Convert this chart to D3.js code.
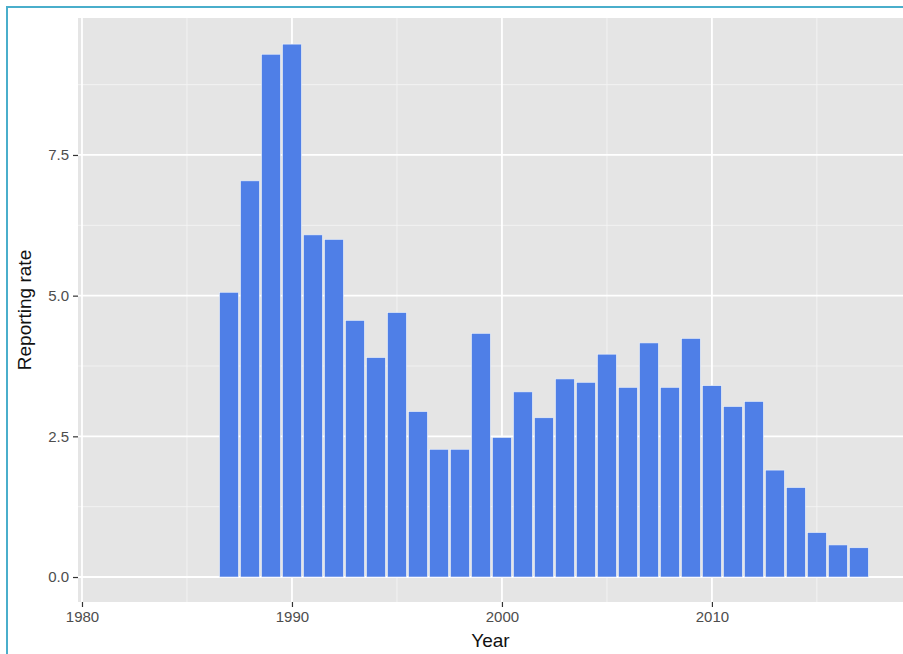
<!DOCTYPE html>
<html>
	<head>
		<meta charset="utf-8">
		<style>
			html, body {
				margin: 0;
				padding: 0;
				background: #fff;
			}
			#chart {
				display: block;
			}
			text {
				font-family: 'Liberation Sans', Arial, sans-serif;
			}
		</style>
	</head>
	<body>
		<svg id="chart" width="903" height="654"></svg>
		<script src="https://cdnjs.cloudflare.com/ajax/libs/d3/7.8.5/d3.min.js"></script>
		<script>
			let years = [
				1987, 1988, 1989, 1990, 1991, 1992, 1993, 1994, 1995, 1996,
				1997, 1998, 1999, 2000, 2001, 2002, 2003, 2004, 2005, 2006,
				2007, 2008, 2009, 2010, 2011, 2012, 2013, 2014, 2015, 2016,
				2017,
			];
			let rates = [
				5.06, 7.04, 9.29, 9.47, 6.08, 6.0, 4.56, 3.9, 4.7, 2.94,
				2.27, 2.27, 4.33, 2.48, 3.29, 2.83, 3.52, 3.46, 3.96, 3.37,
				4.16, 3.37, 4.24, 3.4, 3.03, 3.12, 1.9, 1.59, 0.79, 0.57,
				0.52,
			];
			let xTicks = [1980, 1990, 2000, 2010];
			let xMinor = [1985, 1995, 2005, 2015];
			let yTicks = [0, 2.5, 5, 7.5];
			let yMinor = [1.25, 3.75, 6.25, 8.75];

			let panel = { left: 78, top: 18, right: 903, bottom: 602 };
			let barWidth = 0.9;

			let svg = d3.select('#chart');

			let x = d3
				.scaleLinear()
				.domain([1979.81, 2019.1])
				.range([panel.left, panel.right]);
			let y = d3
				.scaleLinear()
				.domain([-0.444, 9.934])
				.range([panel.bottom, panel.top]);

			// frame of the screenshot
			svg.append('line')
				.attr('x1', 7).attr('x2', 7)
				.attr('y1', 6).attr('y2', 654)
				.attr('stroke', '#4aaecb').attr('stroke-width', 2);
			svg.append('line')
				.attr('x1', 6).attr('x2', 903)
				.attr('y1', 7).attr('y2', 7)
				.attr('stroke', '#4aaecb').attr('stroke-width', 2);

			svg.append('rect')
				.attr('x', panel.left)
				.attr('y', panel.top)
				.attr('width', panel.right - panel.left)
				.attr('height', panel.bottom - panel.top)
				.attr('fill', '#e5e5e5');

			let grid = svg.append('g');
			grid.selectAll('.xminor')
				.data(xMinor).enter().append('line')
				.attr('x1', d => x(d)).attr('x2', d => x(d))
				.attr('y1', panel.top).attr('y2', panel.bottom)
				.attr('stroke', '#f4f4f4').attr('stroke-width', 0.9);
			grid.selectAll('.yminor')
				.data(yMinor).enter().append('line')
				.attr('x1', panel.left).attr('x2', panel.right)
				.attr('y1', d => y(d)).attr('y2', d => y(d))
				.attr('stroke', '#f4f4f4').attr('stroke-width', 0.9);
			grid.selectAll('.xmajor')
				.data(xTicks).enter().append('line')
				.attr('x1', d => x(d)).attr('x2', d => x(d))
				.attr('y1', panel.top).attr('y2', panel.bottom)
				.attr('stroke', '#fff').attr('stroke-width', 1.8);
			grid.selectAll('.ymajor')
				.data(yTicks).enter().append('line')
				.attr('x1', panel.left).attr('x2', panel.right)
				.attr('y1', d => y(d)).attr('y2', d => y(d))
				.attr('stroke', '#fff').attr('stroke-width', 1.8);

			svg.append('g')
				.selectAll('rect')
				.data(years)
				.enter()
				.append('rect')
				.attr('x', d => x(d - barWidth / 2))
				.attr('width', x(barWidth) - x(0))
				.attr('y', (d, i) => y(rates[i]))
				.attr('height', (d, i) => y(0) - y(rates[i]))
				.attr('fill', '#4f7fe7')
				.attr('stroke', '#eef3fb')
				.attr('stroke-width', 0.6);

			let xAxis = svg.append('g')
				.attr('transform', `translate(0,${panel.bottom})`)
				.call(d3.axisBottom(x).tickValues(xTicks).tickSize(5).tickPadding(4).tickFormat(d3.format('d')));
			let yAxis = svg.append('g')
				.attr('transform', `translate(${panel.left},0)`)
				.call(d3.axisLeft(y).tickValues(yTicks).tickSize(5).tickPadding(4).tickFormat(d3.format('.1f')));

			[xAxis, yAxis].forEach(a => {
				a.select('.domain').remove();
				a.selectAll('line').attr('stroke', '#333').attr('stroke-width', 1.2);
				a.selectAll('text')
					.attr('fill', '#4d4d4d')
					.style('font-size', '15px')
					.style('font-family', "'Liberation Sans', Arial, sans-serif");
			});

			svg.append('text')
				.attr('x', (panel.left + panel.right) / 2)
				.attr('y', 647)
				.attr('text-anchor', 'middle')
				.attr('fill', '#111')
				.style('font-size', '19px')
				.text('Year');

			svg.append('text')
				.attr('transform', `translate(31,${(panel.top + panel.bottom) / 2}) rotate(-90)`)
				.attr('text-anchor', 'middle')
				.attr('fill', '#111')
				.style('font-size', '19px')
				.text('Reporting rate');
		</script>
	</body>
</html>
